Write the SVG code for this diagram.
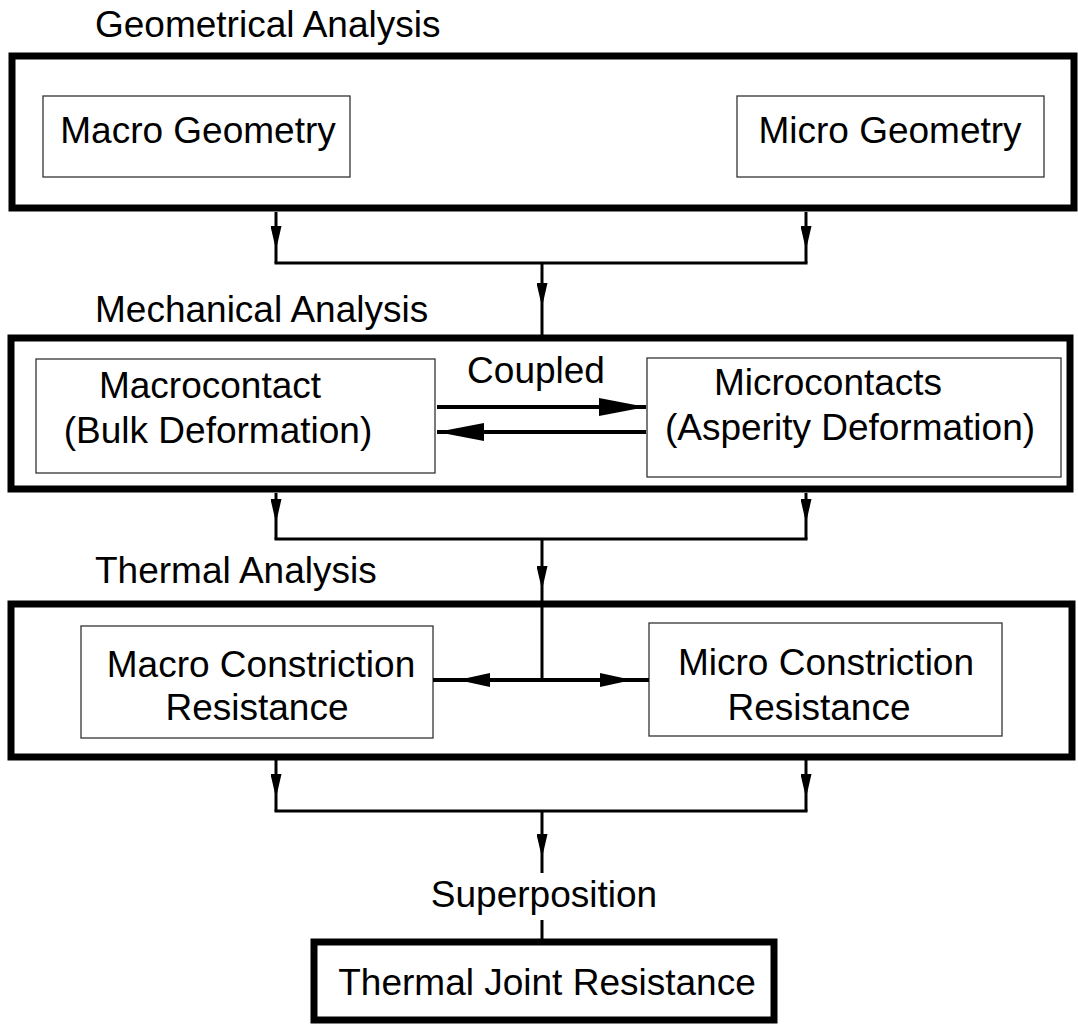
<svg xmlns="http://www.w3.org/2000/svg" width="1078" height="1024" viewBox="0 0 1078 1024">
<style>
text{font-family:"Liberation Sans",Arial,sans-serif;font-size:37px;fill:#000}
.c{text-anchor:middle}
.outer{fill:none;stroke:#000;stroke-width:7}
.inner{fill:#fff;stroke:#333;stroke-width:1.3}
.ln{fill:none;stroke:#000;stroke-width:3}
.lh{fill:none;stroke:#000;stroke-width:4}
</style>
<defs>
<marker id="av" markerUnits="userSpaceOnUse" markerWidth="24" markerHeight="11" refX="24" refY="5.5" orient="auto">
<path d="M0,0 L24,5.5 L0,11 z" fill="#000"/>
</marker>
<marker id="ac" markerUnits="userSpaceOnUse" markerWidth="47" markerHeight="18" refX="47" refY="9" orient="auto">
<path d="M0,0 L47,9 L0,18 z" fill="#000"/>
</marker>
<marker id="at" markerUnits="userSpaceOnUse" markerWidth="32" markerHeight="14" refX="32" refY="7" orient="auto">
<path d="M0,0 L32,7 L0,14 z" fill="#000"/>
</marker>
</defs>
<rect width="1078" height="1024" fill="#fff"/>

<g id="geometrical-analysis">
<text x="95" y="37">Geometrical Analysis</text>
<rect class="outer" x="12" y="56" width="1062" height="152"/>
</g>
<g id="macro-geometry">
<rect class="inner" x="43" y="96" width="307" height="81"/>
<text class="c" x="198" y="143">Macro Geometry</text>
</g>
<g id="micro-geometry">
<rect class="inner" x="737" y="96" width="307" height="81"/>
<text class="c" x="890" y="143">Micro Geometry</text>
</g>

<g id="mechanical-analysis">
<text x="95" y="322">Mechanical Analysis</text>
<rect class="outer" x="11" y="338" width="1059" height="151"/>
</g>
<g id="macrocontact">
<rect class="inner" x="36" y="359" width="399" height="114"/>
<text class="c" x="210" y="398">Macrocontact</text>
<text class="c" x="218" y="443">(Bulk Deformation)</text>
</g>
<g id="microcontacts">
<rect class="inner" x="647" y="358" width="414" height="119"/>
<text class="c" x="828" y="395">Microcontacts</text>
<text class="c" x="850" y="440">(Asperity Deformation)</text>
</g>

<g id="thermal-analysis">
<text x="95" y="583">Thermal Analysis</text>
<rect class="outer" x="11" y="604" width="1061" height="153"/>
</g>
<g id="macro-constriction">
<rect class="inner" x="81" y="626" width="352" height="112"/>
<text class="c" x="261" y="677">Macro Constriction</text>
<text class="c" x="257" y="720">Resistance</text>
</g>
<g id="micro-constriction">
<rect class="inner" x="649" y="623" width="353" height="113"/>
<text class="c" x="826" y="675">Micro Constriction</text>
<text class="c" x="819" y="720">Resistance</text>
</g>

<g id="thermal-joint-resistance">
<rect class="outer" x="314" y="942" width="460" height="78"/>
<text class="c" x="547" y="995">Thermal Joint Resistance</text>
</g>

<g id="connectors">
<line class="ln" x1="276" y1="212" x2="276" y2="250" marker-end="url(#av)"/>
<line class="ln" x1="276" y1="250" x2="276" y2="263"/>
<line class="ln" x1="806" y1="212" x2="806" y2="250" marker-end="url(#av)"/>
<line class="ln" x1="806" y1="250" x2="806" y2="263"/>
<line class="ln" x1="274.5" y1="263" x2="807.5" y2="263"/>
<line class="ln" x1="542" y1="263" x2="542" y2="307" marker-end="url(#av)"/>
<line class="ln" x1="542" y1="307" x2="542" y2="335"/>
<line class="lh" x1="437" y1="407" x2="646" y2="407" marker-end="url(#ac)"/>
<line class="lh" x1="646" y1="432" x2="437" y2="432" marker-end="url(#ac)"/>
<text class="c" x="536" y="383">Coupled</text>
<line class="ln" x1="276" y1="493" x2="276" y2="523" marker-end="url(#av)"/>
<line class="ln" x1="276" y1="523" x2="276" y2="539"/>
<line class="ln" x1="806" y1="493" x2="806" y2="523" marker-end="url(#av)"/>
<line class="ln" x1="806" y1="523" x2="806" y2="539"/>
<line class="ln" x1="274.5" y1="539" x2="807.5" y2="539"/>
<line class="ln" x1="542" y1="539" x2="542" y2="590" marker-end="url(#av)"/>
<line class="ln" x1="542" y1="590" x2="542" y2="680"/>
<line class="lh" x1="542" y1="680" x2="458" y2="680" marker-end="url(#at)"/>
<line class="lh" x1="458" y1="680" x2="433" y2="680"/>
<line class="lh" x1="542" y1="680" x2="632" y2="680" marker-end="url(#at)"/>
<line class="lh" x1="632" y1="680" x2="649" y2="680"/>
<line class="ln" x1="276" y1="760" x2="276" y2="798" marker-end="url(#av)"/>
<line class="ln" x1="276" y1="798" x2="276" y2="811"/>
<line class="ln" x1="806" y1="760" x2="806" y2="798" marker-end="url(#av)"/>
<line class="ln" x1="806" y1="798" x2="806" y2="811"/>
<line class="ln" x1="274.5" y1="811" x2="807.5" y2="811"/>
<line class="ln" x1="542" y1="811" x2="542" y2="858" marker-end="url(#av)"/>
<line class="ln" x1="542" y1="858" x2="542" y2="873"/>
<text class="c" x="544" y="907">Superposition</text>
<line class="ln" x1="542" y1="920" x2="542" y2="939"/>
</g>
</svg>
